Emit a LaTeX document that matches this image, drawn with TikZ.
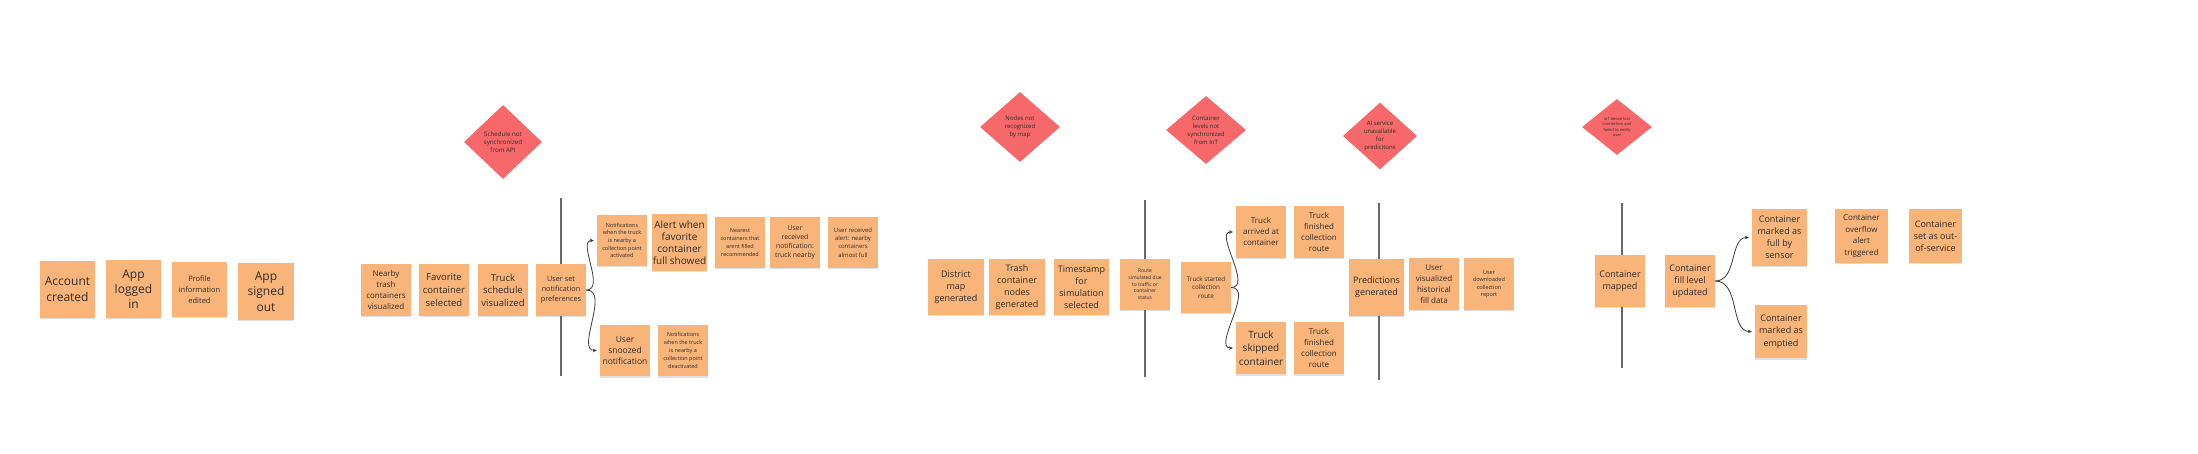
\documentclass[tikz,border=0pt]{standalone}
\usepackage{fontspec}
\setmainfont{Open Sans}
\usetikzlibrary{shapes.geometric,arrows.meta,shadows}
\definecolor{noteorange}{RGB}{249,180,122}
\definecolor{riskred}{RGB}{247,104,106}
\definecolor{txt}{RGB}{45,45,45}
\definecolor{divider}{RGB}{105,105,105}
\definecolor{conncol}{RGB}{60,60,60}
\tikzset{
  note/.style={fill=noteorange, draw=none, align=center, inner sep=0pt, text=txt,
    drop shadow={shadow xshift=0pt, shadow yshift=-1.5pt, opacity=0.12, fill=black}},
  sz/.style 2 args={minimum width=#1, minimum height=#2},
  fs/.style 2 args={font=\fontsize{#1}{#2}\selectfont},
  risk/.style={shape=diamond, fill=riskred, draw=none, align=center, inner sep=0pt, text=txt, aspect=1},
  divline/.style={draw=divider, line width=1.2pt},
  conn/.style={draw=conncol, line width=0.8pt, -{Stealth[length=4pt,width=3.6pt]}, shorten >=3pt},
}
\begin{document}
\begin{tikzpicture}[x=1pt,y=-1pt]
\fill[white] (0,0) rectangle (2198,454);
\useasboundingbox (0,0) rectangle (2198,454);

% dividers
\coordinate (d1t) at (561,198); \coordinate (d1b) at (561,376);
\coordinate (d2t) at (1145,200); \coordinate (d2b) at (1145,377);
\coordinate (d3t) at (1379,203); \coordinate (d3b) at (1379,380);
\coordinate (d4t) at (1622,203); \coordinate (d4b) at (1622,368);
\draw[divline] (d1t) -- (d1b);
\draw[divline] (d2t) -- (d2b);
\draw[divline] (d3t) -- (d3b);
\draw[divline] (d4t) -- (d4b);

% group 1
\node[note, sz={55pt}{57pt}, fs={12}{16.5}] (acc) at (67.5,289.5) {Account\\created};
\node[note, sz={55pt}{58pt}, fs={12}{15}] (login) at (133.5,289) {App\\logged\\in};
\node[note, sz={55pt}{55pt}, fs={7.5}{11}] (profile) at (199.5,289.5) {Profile\\information\\edited};
\node[note, sz={56pt}{57pt}, fs={12}{15.5}] (signout) at (266,291.5) {App\\signed\\out};

% group 2
\node[note, sz={50pt}{52pt}, fs={8}{11}] (nearby) at (386,290) {Nearby\\trash\\containers\\visualized};
\node[note, sz={50pt}{52pt}, fs={9.5}{13}] (fav) at (444,290) {Favorite\\container\\selected};
\node[note, sz={50pt}{52pt}, fs={9.5}{12.5}] (sched) at (503,290) {Truck\\schedule\\visualized};
\node[note, sz={50pt}{52pt}, fs={7.3}{10}] (userset) at (561,290) {User set\\notification\\preferences};
\node[note, sz={50pt}{51pt}, fs={5.5}{7.7}] (notifact) at (622,240.5) {Notifications\\when the truck\\is nearby a\\collection point\\activated};
\node[note, sz={55pt}{57pt}, fs={10}{12}] (alert) at (679.5,242.5) {Alert when\\favorite\\container\\full showed};
\node[note, sz={50pt}{51pt}, fs={5.5}{7.8}] (nearest) at (740,242.5) {Nearest\\containers that\\arent filled\\recommended};
\node[note, sz={50pt}{51pt}, fs={6.8}{9}] (recvnotif) at (795,242.5) {User\\received\\notification:\\truck nearby};
\node[note, sz={50pt}{51pt}, fs={6}{8.3}] (recvalert) at (853,242.5) {User received\\alert: nearby\\containers\\almost full};
\node[note, sz={50pt}{51pt}, fs={8.5}{11}] (snoozed) at (625,350.5) {User\\snoozed\\notification};
\node[note, sz={50pt}{51pt}, fs={5.5}{7.8}] (deact) at (683,350.5) {Notifications\\when the truck\\is nearby a\\collection point\\deactivated};
\node[risk, minimum width=78pt, minimum height=74pt, fs={6.2}{8.3}] (risk1) at (503,142) {Schedule not\\synchronized\\from API};

\draw[conn] (userset.east) to[out=0,in=180] (notifact.west);
\draw[conn] (userset.east) to[out=0,in=180] (snoozed.west);

% group 3
\node[note, sz={56pt}{56pt}, fs={9}{12}] (district) at (956,287) {District\\map\\generated};
\node[note, sz={56pt}{56pt}, fs={9}{12}] (trashnodes) at (1017,287) {Trash\\container\\nodes\\generated};
\node[note, sz={55pt}{56pt}, fs={9}{12}] (timestamp) at (1081.5,287) {Timestamp\\for\\simulation\\selected};
\node[note, sz={50pt}{51pt}, fs={5}{6.7}] (route) at (1145,284.5) {Route\\simulated due\\to traffic or\\container\\status};
\node[note, sz={50pt}{51pt}, fs={6.3}{8.7}] (started) at (1206,287.5) {Truck started\\collection\\route};
\node[note, sz={50pt}{52pt}, fs={8}{11}] (arrived) at (1261,232) {Truck\\arrived at\\container};
\node[note, sz={50pt}{52pt}, fs={8}{11}] (fin1) at (1319,232) {Truck\\finished\\collection\\route};
\node[note, sz={50pt}{52pt}, fs={10}{13.3}] (skipped) at (1261,348) {Truck\\skipped\\container};
\node[note, sz={50pt}{52pt}, fs={8}{11}] (fin2) at (1319,348) {Truck\\finished\\collection\\route};
\node[note, sz={55pt}{57pt}, fs={9}{12}] (pred) at (1376.5,287.5) {Predictions\\generated};
\node[note, sz={50pt}{52pt}, fs={8}{11}] (uservis) at (1434,284) {User\\visualized\\historical\\fill data};
\node[note, sz={50pt}{52pt}, fs={5.5}{7.5}] (userdl) at (1489,284) {User\\downloaded\\collection\\report};
\node[risk, minimum width=80pt, minimum height=70pt, fs={6}{8}] (risk2) at (1020,127) {Nodes not\\recognized\\by map};
\node[risk, minimum width=80pt, minimum height=68pt, fs={6}{8}] (risk3) at (1206,130) {Container\\levels not\\synchronized\\from IoT};
\node[risk, minimum width=74pt, minimum height=67pt, fs={6}{8.3}] (risk4) at (1380,136) {AI service\\unavailable\\for\\predicitons};

\draw[conn] (started.east) to[out=0,in=180] (arrived.west);
\draw[conn] (started.east) to[out=0,in=180] (skipped.west);

% group 4
\node[note, sz={50pt}{52pt}, fs={9}{12.3}] (cmapped) at (1620,281) {Container\\mapped};
\node[note, sz={50pt}{52pt}, fs={9}{12}] (cfill) at (1690,281) {Container\\fill level\\updated};
\node[note, sz={55pt}{57pt}, fs={9}{12}] (cfull) at (1779.5,237.5) {Container\\marked as\\full by\\sensor};
\node[note, sz={53pt}{54pt}, fs={8}{11.7}] (coverflow) at (1861.5,236) {Container\\overflow\\alert\\triggered};
\node[note, sz={53pt}{54pt}, fs={9}{12}] (cout) at (1935.5,236) {Container\\set as out-\\of-service};
\node[note, sz={52pt}{53pt}, fs={9}{12.5}] (cempty) at (1781,331.5) {Container\\marked as\\emptied};
\node[risk, minimum width=70pt, minimum height=56pt, fs={4}{5.5}] (risk5) at (1617,127) {IoT device lost\\connection and\\failed to notify\\user};

\draw[conn] (cfill.east) to[out=0,in=180] (cfull.west);
\draw[conn] (cfill.east) to[out=0,in=180] (cempty.west);
\end{tikzpicture}
\end{document}
